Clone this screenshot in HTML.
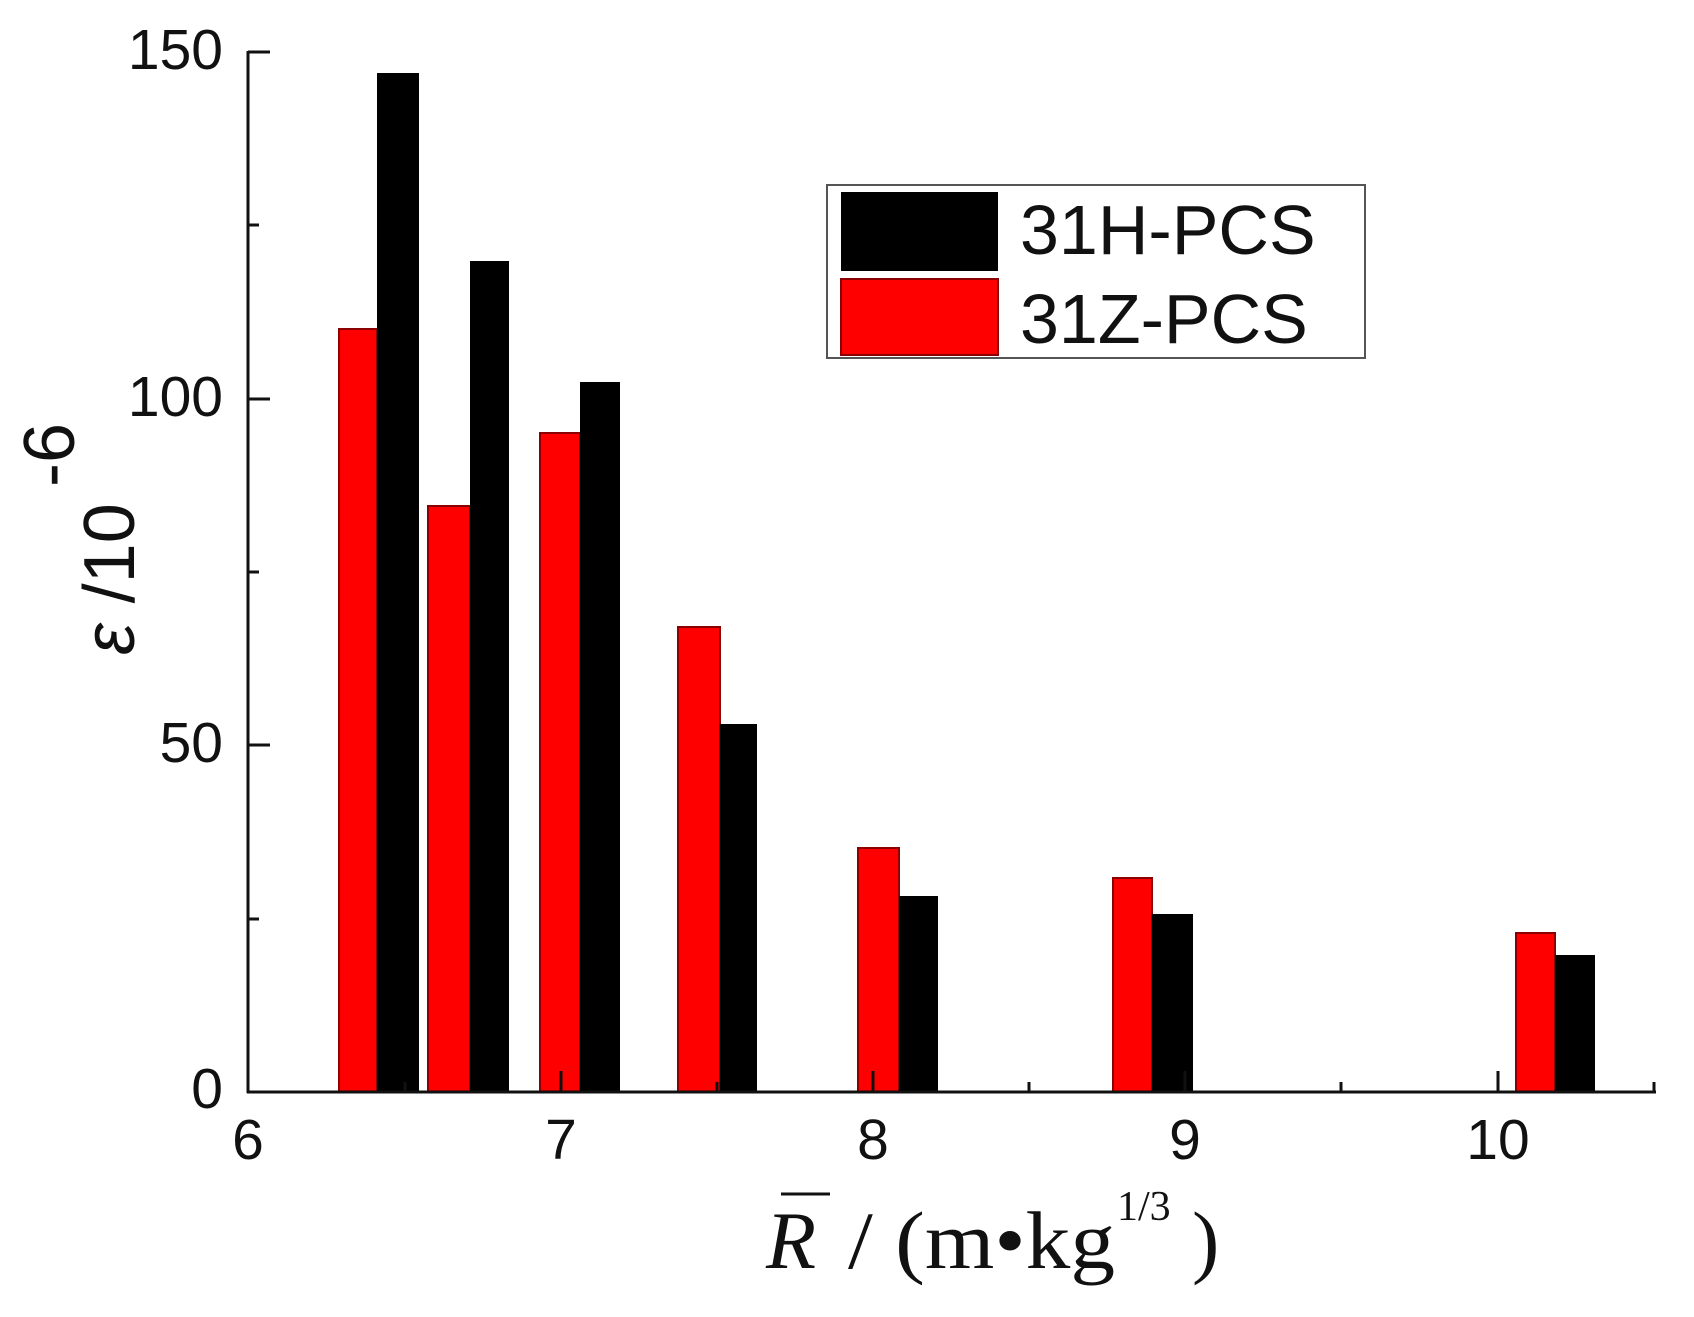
<!DOCTYPE html>
<html><head><meta charset="utf-8"><style>
html,body{margin:0;padding:0;background:#fff;}
svg{display:block;}
</style></head><body>
<svg width="1694" height="1317" viewBox="0 0 1694 1317" xmlns="http://www.w3.org/2000/svg">
<rect width="1694" height="1317" fill="#fff"/>
<g stroke-width="2">
<rect x="339" y="329" width="38" height="763" fill="#ff0000" stroke="#8b0000"/>
<rect x="377" y="73" width="42" height="1019" fill="#000"/>
<rect x="428" y="506" width="42" height="586" fill="#ff0000" stroke="#8b0000"/>
<rect x="470" y="261" width="39" height="831" fill="#000"/>
<rect x="540" y="433" width="40" height="659" fill="#ff0000" stroke="#8b0000"/>
<rect x="580" y="382" width="40" height="710" fill="#000"/>
<rect x="678" y="627" width="42" height="465" fill="#ff0000" stroke="#8b0000"/>
<rect x="720" y="724" width="37" height="368" fill="#000"/>
<rect x="858" y="848" width="41" height="244" fill="#ff0000" stroke="#8b0000"/>
<rect x="899" y="896" width="39" height="196" fill="#000"/>
<rect x="1113" y="878" width="39" height="214" fill="#ff0000" stroke="#8b0000"/>
<rect x="1152" y="914" width="41" height="178" fill="#000"/>
<rect x="1516" y="933" width="39" height="159" fill="#ff0000" stroke="#8b0000"/>
<rect x="1555" y="955" width="40" height="137" fill="#000"/>
</g>
<g stroke="#111" stroke-width="3" fill="none">
<line x1="248" y1="51" x2="248" y2="1093"/>
<line x1="247" y1="1092" x2="1656" y2="1092"/>
<line x1="248" y1="52" x2="270" y2="52"/>
<line x1="248" y1="225" x2="259" y2="225"/>
<line x1="248" y1="399" x2="270" y2="399"/>
<line x1="248" y1="572" x2="259" y2="572"/>
<line x1="248" y1="745" x2="270" y2="745"/>
<line x1="248" y1="919" x2="259" y2="919"/>
<line x1="561" y1="1092" x2="561" y2="1071"/>
<line x1="873" y1="1092" x2="873" y2="1071"/>
<line x1="1185" y1="1092" x2="1185" y2="1071"/>
<line x1="1498" y1="1092" x2="1498" y2="1071"/>
<line x1="405" y1="1092" x2="405" y2="1082"/>
<line x1="717" y1="1092" x2="717" y2="1082"/>
<line x1="1029" y1="1092" x2="1029" y2="1082"/>
<line x1="1341" y1="1092" x2="1341" y2="1082"/>
<line x1="1654" y1="1092" x2="1654" y2="1082"/>
</g>
<g font-family="Liberation Sans, Arial, sans-serif" font-size="57" fill="#111">
<g text-anchor="end">
<text x="223" y="69">150</text>
<text x="223" y="416">100</text>
<text x="223" y="762">50</text>
<text x="223" y="1108">0</text>
</g>
<g text-anchor="middle">
<text x="248" y="1159">6</text>
<text x="561" y="1159">7</text>
<text x="873" y="1159">8</text>
<text x="1185" y="1159">9</text>
<text x="1498" y="1159">10</text>
</g>
</g>
<g font-family="Liberation Sans, Arial, sans-serif" font-size="72" fill="#111">
<text transform="translate(134,655) rotate(-90)"><tspan font-style="italic">ε</tspan> /10</text>
<text transform="translate(74,487) rotate(-90)">-6</text>
</g>
<g font-family="Liberation Serif, Times New Roman, serif" fill="#111">
<text x="766" y="1268" font-size="82" font-style="italic">R</text>
<line x1="781" y1="1194" x2="830" y2="1194" stroke="#111" stroke-width="3"/>
<text x="848" y="1268" font-size="82" textLength="267" lengthAdjust="spacingAndGlyphs">/ (m•kg</text>
<text x="1117" y="1220" font-size="42">1/3</text>
<text x="1192" y="1268" font-size="82">)</text>
</g>
<rect x="827" y="185" width="538" height="173" fill="#fff" stroke="#555" stroke-width="2"/>
<rect x="841" y="192" width="157" height="79" fill="#000"/>
<rect x="841" y="279" width="157" height="76" fill="#ff0000" stroke="#8b0000" stroke-width="2"/>
<g font-family="Liberation Sans, Arial, sans-serif" font-size="70" fill="#111">
<text x="1020" y="254">31H-PCS</text>
<text x="1020" y="343">31Z-PCS</text>
</g>
</svg>
</body></html>
